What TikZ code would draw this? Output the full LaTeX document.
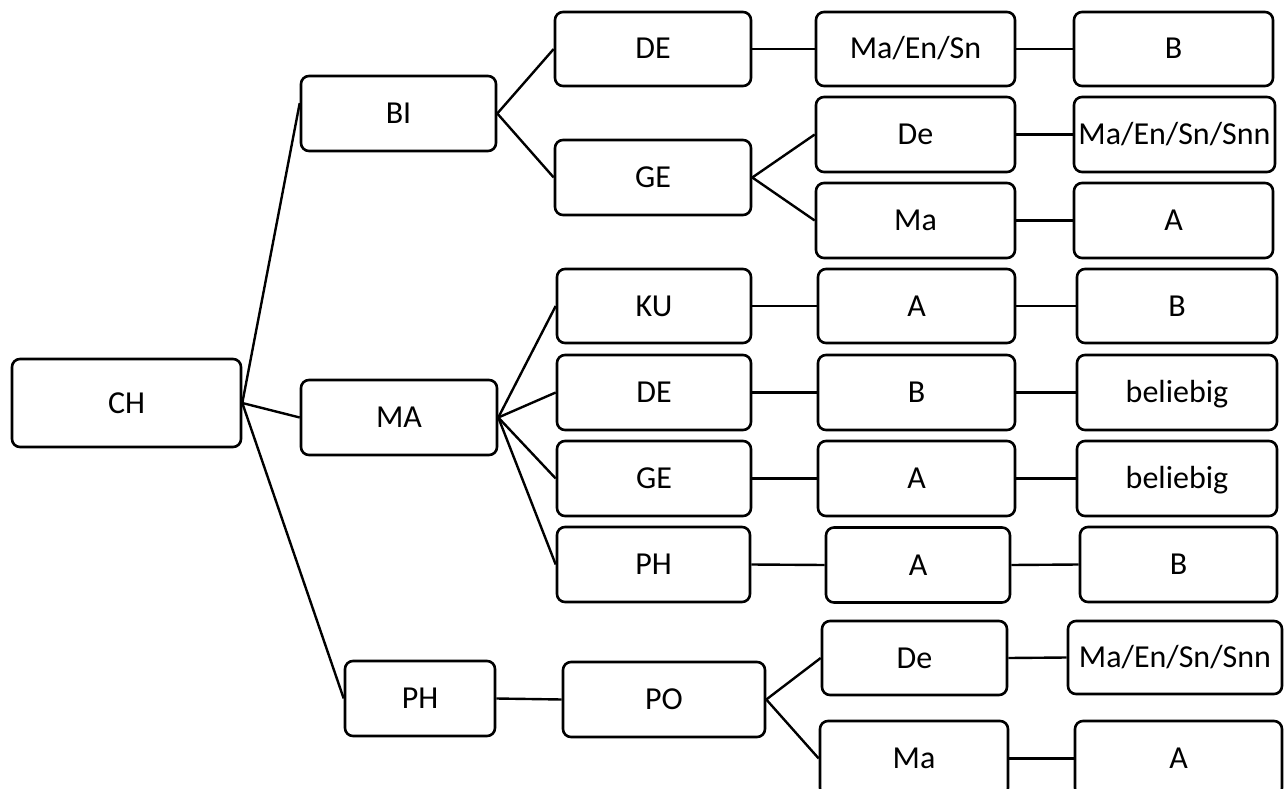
\documentclass[tikz,border=0pt]{standalone}
\usepackage{fontspec}
\setmainfont{Carlito}
\begin{document}
\begin{tikzpicture}[x=1pt,y=-1pt,
  box/.style={draw=black, line width=2.6pt, rounded corners=8pt, inner sep=0pt,
    minimum height=75pt, font=\fontsize{32}{36}\selectfont, text=black,
    text height=20pt, text depth=0pt},
  conn/.style={draw=black, line width=2.4pt}]
\useasboundingbox (0,0) rectangle (1285,789);
% column 0/1
\node[box, minimum width=229pt, minimum height=88pt] (CH) at (126.5,403) {CH};
\node[box, minimum width=195pt] (BI) at (398.5,113.5) {BI};
\node[box, minimum width=196pt] (MA) at (399,417.5) {MA};
\node[box, minimum width=150pt] (PHb) at (420,698.5) {PH};
% column 2
\node[box, minimum width=196pt, minimum height=74pt] (DE1) at (653,49) {DE};
\node[box, minimum width=196pt] (GE1) at (653,177.5) {GE};
\node[box, minimum width=194pt, minimum height=74pt] (KU) at (654,306) {KU};
\node[box, minimum width=194pt] (DE2) at (654,392.5) {DE};
\node[box, minimum width=194pt] (GE2) at (654,478.5) {GE};
\node[box, minimum width=193pt] (PH2) at (653.5,564.5) {PH};
\node[box, minimum width=202pt] (PO) at (664,699.5) {PO};
% column 3
\node[box, minimum width=199pt, minimum height=74pt] (MES1) at (915.5,49) {Ma/En/Sn};
\node[box, minimum width=199pt] (De1) at (915.5,134.5) {De};
\node[box, minimum width=199pt] (Ma1) at (915.5,220.5) {Ma};
\node[box, minimum width=197pt, minimum height=74pt] (A1) at (916.5,306) {A};
\node[box, minimum width=197pt] (B2) at (916.5,392.5) {B};
\node[box, minimum width=197pt] (A2) at (916.5,478.5) {A};
\node[box, minimum width=184pt] (A3) at (918,565) {A};
\node[box, minimum width=185pt, minimum height=74pt] (De2) at (914.5,658) {De};
\node[box, minimum width=188pt] (Ma2) at (914,758.5) {Ma};
% column 4
\node[box, minimum width=199pt, minimum height=74pt] (B1) at (1173.5,49) {B};
\node[box, minimum width=201pt] (MESS1) at (1174.5,134.5) {Ma/En/Sn/Snn};
\node[box, minimum width=199pt] (Aa) at (1173.5,220.5) {A};
\node[box, minimum width=200pt, minimum height=74pt] (Bb) at (1177,306) {B};
\node[box, minimum width=200pt] (bel1) at (1177,392.5) {beliebig};
\node[box, minimum width=200pt] (bel2) at (1177,478.5) {beliebig};
\node[box, minimum width=197pt] (Bc) at (1178.5,564.5) {B};
\node[box, minimum width=214pt, minimum height=73pt] (MESS2) at (1175,657.5) {Ma/En/Sn/Snn};
\node[box, minimum width=207pt] (Ad) at (1178.5,758.5) {A};
% connectors
\draw[conn] (CH.east) -- (BI.174);
\draw[conn] (CH.east) -- (MA.west);
\draw[conn] (CH.east) -- (PHb.west);
\draw[conn] (BI.east) -- (DE1.west);
\draw[conn] (BI.east) -- (GE1.west);
\draw[conn] (GE1.east) -- (De1.west);
\draw[conn] (GE1.east) -- (Ma1.west);
\draw[conn] (DE1.east) -- (MES1.west);
\draw[conn] (MES1.east) -- (B1.west);
\draw[conn] (De1.east) -- (MESS1.west);
\draw[conn] (Ma1.east) -- (Aa.west);
\draw[conn] (MA.east) -- (KU.west);
\draw[conn] (MA.east) -- (DE2.west);
\draw[conn] (MA.east) -- (GE2.west);
\draw[conn] (MA.east) -- (PH2.west);
\draw[conn] (KU.east) -- (A1.west);
\draw[conn] (A1.east) -- (Bb.west);
\draw[conn] (DE2.east) -- (B2.west);
\draw[conn] (B2.east) -- (bel1.west);
\draw[conn] (GE2.east) -- (A2.west);
\draw[conn] (A2.east) -- (bel2.west);
\draw[conn] (PH2.east) -- (A3.west);
\draw[conn] (A3.east) -- (Bc.west);
\draw[conn] (PHb.east) -- (PO.west);
\draw[conn] (PO.east) -- (De2.west);
\draw[conn] (PO.east) -- (Ma2.west);
\draw[conn] (De2.east) -- (MESS2.west);
\draw[conn] (Ma2.east) -- (Ad.west);
\end{tikzpicture}
\end{document}
